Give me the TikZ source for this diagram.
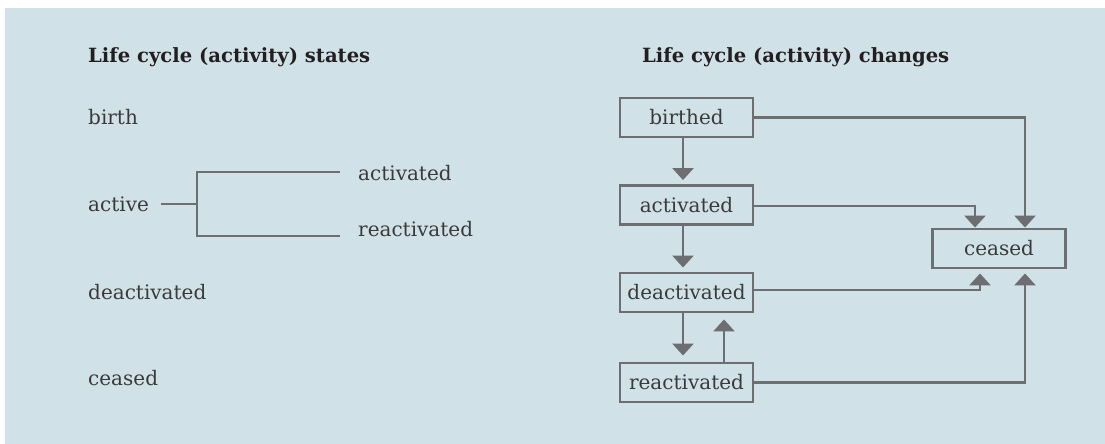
\documentclass[tikz,border=0pt]{standalone}
\usepackage{fontspec}
\setmainfont{DejaVu Serif}
\usetikzlibrary{arrows.meta}
\definecolor{panel}{HTML}{D1E1E8}
\definecolor{ink}{HTML}{6D6E71}
\definecolor{txt}{HTML}{3A3A3C}
\definecolor{head}{HTML}{231F20}
\tikzset{
  lbl/.style={anchor=base west, inner sep=0pt, text=txt, font=\fontsize{20}{24}\selectfont},
  ttl/.style={anchor=base west, inner sep=0pt, text=head, font=\fontsize{19.6}{24}\selectfont\bfseries},
  box/.style={draw=ink, line width=2.9pt, minimum width=133pt, minimum height=39pt,
    inner sep=0pt, text=txt, font=\fontsize{20}{24}\selectfont},
  wire/.style={draw=ink, line width=2.7pt},
  arr/.style={wire, -{Triangle[width=21pt, length=12pt]}},
}
\begin{document}
\begin{tikzpicture}[x=1pt, y=-1pt]
\useasboundingbox (0,0) rectangle (1105,444);
\fill[panel] (5,8) rectangle (1105,444);

% left column: states
\node[ttl] (tstates) at (88,63) {Life cycle (activity) states};
\node[lbl] (birth) at (88,124) {birth};
\node[lbl] (active) at (88,211) {active};
\node[lbl] (sact) at (358,180) {activated};
\node[lbl] (sreact) at (358,236) {reactivated};
\node[lbl] (deact) at (88,299) {deactivated};
\node[lbl] (ceasedl) at (88,385) {ceased};

\coordinate (fork) at (197,204);
\coordinate (forkin) at (161,204);
\coordinate (endact) at (340,172);
\coordinate (endreact) at (340,236);
\draw[wire] (forkin) -- (fork);
\draw[wire] (endact) -| (fork) |- (endreact);

% right column: changes
\node[ttl] (tchanges) at (642,63) {Life cycle (activity) changes};
\node[box] (birthed) at (686.5,117.5) {birthed};
\node[box] (activated) at (686.5,205) {activated};
\node[box] (deactivated) at (686.5,292.5) {deactivated};
\node[box] (reactivated) at (686.5,382.5) {reactivated};
\node[box] (ceased) at (999,248.5) {ceased};

\draw[arr, shorten >=4pt] ([xshift=-3.5pt]birthed.south) -- ([xshift=-3.5pt]activated.north);
\draw[arr, shorten >=4pt] ([xshift=-3.5pt]activated.south) -- ([xshift=-3.5pt]deactivated.north);
\draw[arr, shorten >=6pt] ([xshift=-3.5pt]deactivated.south) -- ([xshift=-3.5pt]reactivated.north);
\draw[arr, shorten >=6pt] ([xshift=37.5pt]reactivated.north) -- ([xshift=37.5pt]deactivated.south);

\draw[arr] (birthed.east) -| ([xshift=26pt]ceased.north);
\draw[arr] ([yshift=-1pt]activated.east) -| ([xshift=-24pt]ceased.north);
\draw[arr, shorten >=4pt] ([yshift=2.5pt]deactivated.east) -| ([xshift=-19pt]ceased.south);
\draw[arr, shorten >=4pt] (reactivated.east) -| ([xshift=26pt]ceased.south);
\end{tikzpicture}
\end{document}
